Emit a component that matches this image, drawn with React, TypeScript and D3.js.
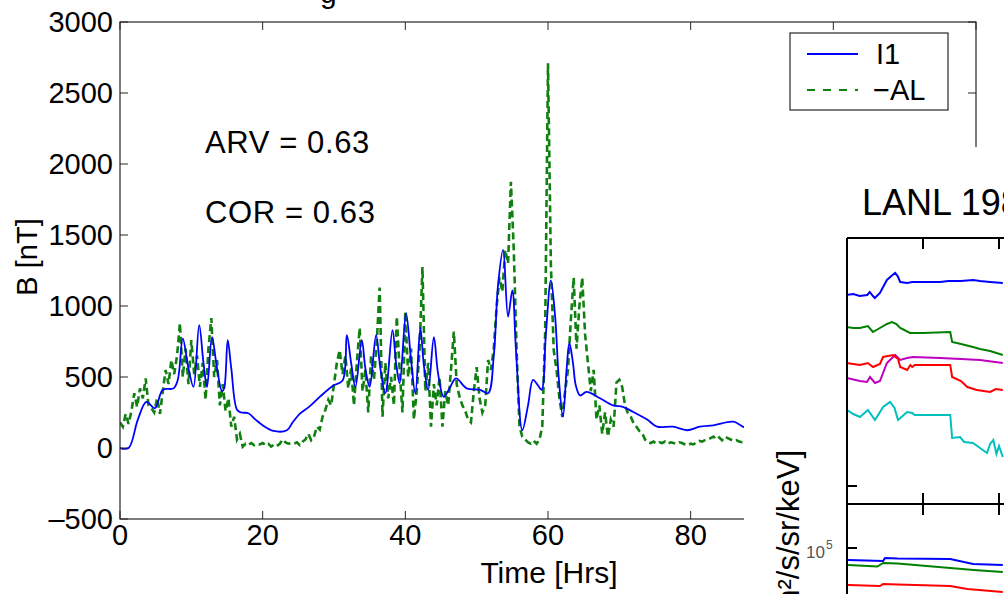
import React from "react";
import * as d3 from "d3";

// ---------- main chart data ----------
const yTicks = [-500, 0, 500, 1000, 1500, 2000, 2500, 3000];
const xTicks = [0, 20, 40, 60, 80, 100, 120];
const xTickLabels = [0, 20, 40, 60, 80, 100];

const i1Times = [0, 1.2, 2.5, 3.7, 4.9, 6, 7.5, 8.1, 8.8, 9.6, 10.3, 11.1, 11.7, 12.2, 12.9, 13.6, 14.3, 14.6, 15.1, 15.6, 16.4, 17, 18, 19, 20, 21.5, 23.4, 24.2, 25.3, 26.5, 28, 29.9, 31.2, 31.8, 32.4, 33, 33.9, 34.4, 35, 35.9, 36.5, 37.2, 38.2, 38.7, 39.2, 40.1, 40.8, 41.4, 42.1, 42.6, 43.2, 44, 44.6, 45.4, 46.2, 47.1, 48.6, 50.5, 51.6, 52.4, 53, 53.7, 54.4, 55, 55.5, 56.4, 57.2, 57.9, 58.6, 59.1, 59.7, 60.4, 61, 61.5, 62.1, 62.6, 63, 63.5, 63.9, 64.5, 65.4, 67.3, 69.1, 70.5, 71.9, 73.9, 75.3, 77.5, 79.5, 81.3, 83.2, 86, 87.3, 88.5];
const i1Values = [0, 0, 200, 325, 280, 410, 420, 480, 770, 560, 430, 865, 600, 430, 780, 560, 400, 420, 760, 560, 270, 250, 245, 200, 160, 120, 125, 180, 245, 290, 360, 440, 475, 795, 600, 430, 760, 560, 430, 795, 560, 385, 830, 600, 455, 950, 620, 385, 845, 580, 410, 780, 520, 360, 420, 490, 420, 410, 385, 650, 1150, 1395, 925, 1110, 700, 125, 300, 480, 440, 410, 800, 1180, 925, 500, 220, 550, 740, 600, 440, 370, 395, 350, 300, 290, 255, 200, 150, 150, 125, 150, 160, 185, 150, 130];

const alStep = 0.4; // hours between -AL samples
const alValues = [
  180, 150, 240, 170, 260, 385, 290, 420, 350, 490,
  300, 280, 250, 350, 240, 400, 550, 450, 620, 520,
  650, 880, 500, 700, 450, 760, 520, 650, 430, 600,
  340, 700, 915, 500, 620, 300, 450, 260, 350, 150,
  220, 60, 100, 10, 30, 20, 35, 20, 30, 25,
  35, 20, 30, 10, 25, 15, 30, 60, 40, 30,
  35, 30, 40, 20, 45, 60, 100, 55, 80, 150,
  130, 220, 270, 340, 300, 450, 600, 690, 520, 650,
  420, 560, 300, 600, 845, 400, 550, 250, 650, 480,
  750, 1130, 220, 600, 350, 500, 300, 925, 550, 250,
  960, 500, 700, 200, 400, 700, 1275, 400, 600, 150,
  450, 300, 500, 150, 400, 300, 550, 820, 450, 360,
  300, 260, 200, 180, 400, 570, 350, 250, 300, 620,
  550, 700, 1000, 1200, 1100, 1395, 1300, 1875, 1400, 690,
  150, 80, 60, 40, 30, 50, 30, 60, 150, 810,
  2710, 1300, 690, 550, 350, 220, 400, 550, 900, 1200,
  700, 1000, 1200, 800, 600, 400, 550, 200, 300, 100,
  250, 80, 200, 150, 460, 480, 430, 300, 245, 220,
  175, 150, 120, 105, 60, 40, 35, 45, 30, 40,
  35, 45, 30, 40, 35, 30, 40, 35, 25, 20,
  30, 25, 40, 50, 45, 55, 60, 70, 80, 60,
  75, 55, 80, 70, 60, 50, 55, 45, 40, 40,
];

const annotations = ["ARV = 0.63", "COR = 0.63"];
const legendLabels = ["I1", "\u2212AL"];

// ---------- LANL inset data (t in hrs, log10 flux) ----------
const lanlTicksX = [0, 12, 24];
const lanlBlueTop: [number, number][] = [[0, 6.91], [1, 6.92], [2, 6.9], [3.2, 6.91], [3.6, 6.94], [4.1, 6.9], [4.4, 6.88], [5.2, 6.93], [6.3, 7.06], [7, 7.1], [7.6, 7.13], [8, 7.1], [8.4, 7.04], [9.5, 7.03], [10.3, 7.04], [12, 7.04], [14.7, 7.04], [16, 7.05], [18, 7.05], [19.9, 7.06], [21, 7.05], [22.6, 7.04], [24.6, 7.03]];
const lanlGreenTop: [number, number][] = [[0, 6.59], [1, 6.58], [2.05, 6.58], [3.3, 6.6], [4.1, 6.54], [5.2, 6.58], [6.3, 6.62], [7.1, 6.64], [7.8, 6.62], [8.4, 6.58], [9.95, 6.53], [12, 6.53], [16.3, 6.54], [16.6, 6.44], [18, 6.42], [19.9, 6.39], [21, 6.37], [22.6, 6.35], [24.6, 6.31]];
const lanlRedTop: [number, number][] = [[0, 6.23], [1, 6.22], [2.05, 6.21], [3.3, 6.23], [4.1, 6.19], [5.2, 6.22], [5.7, 6.29], [6.5, 6.3], [7.27, 6.31], [8.06, 6.27], [8.4, 6.19], [9.5, 6.16], [10, 6.21], [10.3, 6.19], [10.7, 6.21], [12, 6.21], [16.3, 6.21], [16.6, 6.09], [18, 6.05], [19, 5.99], [20.5, 5.96], [22.6, 5.94], [23.5, 5.97], [24.6, 5.96]];
const lanlMagentaTop: [number, number][] = [[0, 6.08], [2.05, 6.05], [3.16, 6.04], [3.63, 6.09], [4.42, 6.03], [5.2, 6.05], [6.3, 6.23], [7.6, 6.31], [8.4, 6.26], [9.5, 6.28], [10.4, 6.29], [14.7, 6.28], [18, 6.27], [21, 6.26], [24.6, 6.23]];
const lanlCyanTop: [number, number][] = [[0, 5.76], [1, 5.72], [2.05, 5.69], [3.3, 5.76], [4.42, 5.66], [5.7, 5.79], [6.8, 5.84], [7.5, 5.78], [8.06, 5.66], [9.5, 5.74], [10.3, 5.73], [10.7, 5.71], [16.3, 5.71], [16.6, 5.48], [17.85, 5.49], [18.5, 5.44], [19.9, 5.43], [21, 5.38], [22.1, 5.33], [22.6, 5.42], [23.1, 5.46], [23.6, 5.32], [24, 5.4], [24.6, 5.29]];
const lanlBlueBottom: [number, number][] = [[0, 4.88], [5.7, 4.87], [6, 4.9], [8, 4.895], [16.3, 4.89], [19.9, 4.84], [24.6, 4.83]];
const lanlGreenBottom: [number, number][] = [[0, 4.83], [4.8, 4.815], [5.7, 4.85], [8, 4.845], [16.3, 4.8], [20, 4.78], [24.6, 4.76]];
const lanlRedBottom: [number, number][] = [[0, 4.63], [5.2, 4.62], [5.7, 4.64], [8, 4.635], [16.3, 4.62], [19, 4.59], [24.6, 4.56]];

const FONT = "'Liberation Sans', Arial, Helvetica, sans-serif";

export default function App() {
  const x = d3.scaleLinear().domain([0, 120]).range([120, 976]);
  const y = d3.scaleLinear().domain([-500, 3000]).range([519, 22]);

  const i1Line = d3
    .line<number>()
    .x((_, i) => x(i1Times[i]))
    .y((d) => y(d))
    .curve(d3.curveCatmullRom.alpha(0.5));
  const alLine = d3
    .line<number>()
    .x((_, i) => x(i * alStep))
    .y((d) => y(d));

  // LANL inset scales
  const lx = d3.scaleLinear().domain([0, 24]).range([847, 999]);
  const ly1 = d3.scaleLinear().domain([5, 7.48]).range([486, 238]);
  const ly2 = d3.scaleLinear().domain([4.54, 5.44]).range([594, 504]);
  const topLine = d3.line<[number, number]>().x((d) => lx(d[0])).y((d) => ly1(d[1]));
  const botLine = d3.line<[number, number]>().x((d) => lx(d[0])).y((d) => ly2(d[1]));

  const topSeries: { data: [number, number][]; color: string }[] = [
    { data: lanlBlueTop, color: "#0000ff" },
    { data: lanlGreenTop, color: "#008000" },
    { data: lanlMagentaTop, color: "#bf00bf" },
    { data: lanlRedTop, color: "#ff0000" },
    { data: lanlCyanTop, color: "#00bfbf" },
  ];
  const botSeries: { data: [number, number][]; color: string }[] = [
    { data: lanlBlueBottom, color: "#0000ff" },
    { data: lanlGreenBottom, color: "#008000" },
    { data: lanlRedBottom, color: "#ff0000" },
  ];

  const axisColor = "#262626";

  return (
    <svg
      width={1004}
      height={594}
      style={{ position: "absolute", left: 0, top: 0, background: "#fff" }}
      fontFamily={FONT}
    >
      <defs>
        <clipPath id="plotClip">
          <rect x={120} y={22} width={856} height={497} />
        </clipPath>
        <clipPath id="lanlClip">
          <rect x={848} y={239} width={156} height={355} />
        </clipPath>
      </defs>
      <rect x={0} y={0} width={1004} height={594} fill="#fff" />

      {/* partial title above main axes */}
      <text x={320} y={3} fontSize={30} fill="#000">g</text>

      {/* data */}
      <g clipPath="url(#plotClip)">
        <path
          d={alLine(alValues) || ""}
          fill="none"
          stroke="#108010"
          strokeWidth={2.6}
          strokeDasharray="7,4"
        />
        <path d={i1Line(i1Values) || ""} fill="none" stroke="#0000ff" strokeWidth={1.8} />
      </g>

      {/* main axes box */}
      <rect x={120} y={22} width={856} height={497} fill="none" stroke={axisColor} strokeWidth={1.2} />
      {yTicks.map((t) => (
        <g key={"y" + t}>
          <line x1={120} x2={128} y1={y(t)} y2={y(t)} stroke={axisColor} />
          <line x1={976} x2={968} y1={y(t)} y2={y(t)} stroke={axisColor} />
          <text x={113} y={y(t)} dy="0.36em" textAnchor="end" fontSize={29}>
            {t < 0 ? "\u2013" + Math.abs(t) : t}
          </text>
        </g>
      ))}
      {xTicks.map((t) => (
        <g key={"x" + t}>
          <line x1={x(t)} x2={x(t)} y1={519} y2={511} stroke={axisColor} />
          <line x1={x(t)} x2={x(t)} y1={22} y2={30} stroke={axisColor} />
        </g>
      ))}
      {xTickLabels.map((t) => (
        <text key={"xl" + t} x={x(t)} y={545} textAnchor="middle" fontSize={29}>
          {t}
        </text>
      ))}
      <text x={549} y={583} textAnchor="middle" fontSize={30}>Time [Hrs]</text>
      <text transform="translate(37,257) rotate(-90)" textAnchor="middle" fontSize={29}>B [nT]</text>

      {/* annotations */}
      {annotations.map((a, i) => (
        <text key={a} x={205} y={153 + i * 70} fontSize={31} letterSpacing={0.6}>{a}</text>
      ))}

      {/* legend */}
      <rect x={790} y={33} width={158} height={77} fill="#fff" stroke={axisColor} strokeWidth={1.2} />
      <line x1={807} x2={858} y1={54} y2={54} stroke="#0000ff" strokeWidth={1.8} />
      <line x1={807} x2={858} y1={90} y2={90} stroke="#108010" strokeWidth={2.2} strokeDasharray="8,8" />
      <text x={876} y={64} fontSize={29}>{legendLabels[0]}</text>
      <text x={873} y={100} fontSize={29}>{legendLabels[1]}</text>

      {/* overlapping LANL figure */}
      <rect x={744} y={147} width={260} height={447} fill="#fff" />
      <text x={862} y={215} fontSize={36}>LANL 1989-046</text>
      <text transform="translate(799,450) rotate(-90)" textAnchor="end" fontSize={31}>
        Flux [1/cm²/s/sr/keV]
      </text>
      <text x={806} y={558} fontSize={17} fill="#555">10<tspan fontSize={12} dx={1} dy={-9}>5</tspan></text>

      <g clipPath="url(#lanlClip)">
        {topSeries.map((s, i) => (
          <path key={"t" + i} d={topLine(s.data) || ""} fill="none" stroke={s.color} strokeWidth={2} />
        ))}
        {botSeries.map((s, i) => (
          <path key={"b" + i} d={botLine(s.data) || ""} fill="none" stroke={s.color} strokeWidth={2} />
        ))}
      </g>
      <line x1={847} x2={1004} y1={238} y2={238} stroke="#000" strokeWidth={2} />
      <line x1={847} x2={847} y1={238} y2={594} stroke="#000" strokeWidth={2} />
      <line x1={847} x2={1004} y1={504} y2={504} stroke="#000" strokeWidth={2} />
      {lanlTicksX.map((t) => (
        <g key={"lt" + t}>
          <line x1={lx(t)} x2={lx(t)} y1={238} y2={249} stroke="#000" strokeWidth={2} />
          <line x1={lx(t)} x2={lx(t)} y1={493} y2={515} stroke="#000" strokeWidth={2} />
        </g>
      ))}
      <line x1={847} x2={857} y1={486} y2={486} stroke="#000" strokeWidth={2} />
      <line x1={847} x2={857} y1={548} y2={548} stroke="#000" strokeWidth={2} />
    </svg>
  );
}
